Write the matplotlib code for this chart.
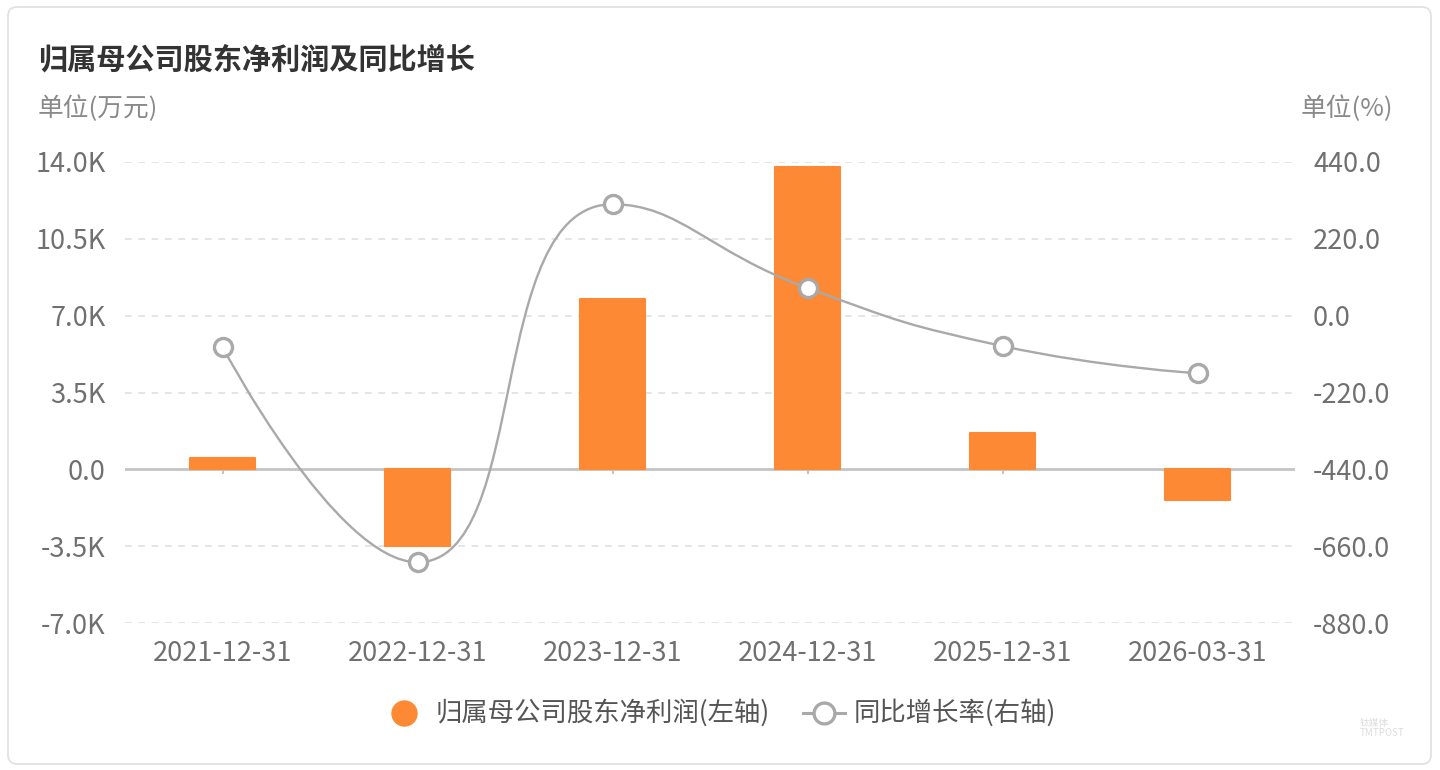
import numpy as np
import matplotlib
matplotlib.use('Agg')
import matplotlib.pyplot as plt
from matplotlib.path import Path
from matplotlib.patches import PathPatch, FancyBboxPatch
from matplotlib.lines import Line2D
from matplotlib.transforms import IdentityTransform

plt.rcParams['font.family'] = ['Noto Sans CJK SC', 'DejaVu Sans']

categories = ['2021-12-31', '2022-12-31', '2023-12-31', '2024-12-31', '2025-12-31', '2026-03-31']
net_profit = [500, -3510, 7750, 13770, 1640, -1410]      # 万元
yoy_growth = [-90, -706, 319, 79, -87, -165]             # %
left_ticks = [-7000, -3500, 0, 3500, 7000, 10500, 14000]
left_labels = ['-7.0K', '-3.5K', '0.0', '3.5K', '7.0K', '10.5K', '14.0K']
right_ticks = [-880, -660, -440, -220, 0, 220, 440]
right_labels = ['-880.0', '-660.0', '-440.0', '-220.0', '0.0', '220.0', '440.0']

W, H = 1440, 770
BAR_C = '#fd8935'
LINE_C = '#a9a9a9'
TICK_C = '#707070'
TICK_FS = 19.5

fig = plt.figure(figsize=(W / 100, H / 100), dpi=100)
fig.patch.set_facecolor('white')
card = FancyBboxPatch((8, 6), 1423, 757, boxstyle='round,pad=0,rounding_size=9',
                      transform=IdentityTransform(), fc='white', ec='#e2e2e2', lw=1.3, zorder=-10)
fig.add_artist(card)

ax = fig.add_axes([125 / W, 1 - 623 / H, 1170 / W, 461 / H])
ax2 = ax.twinx()
x = np.arange(len(categories))

ax.set_xlim(-0.5, len(categories) - 0.5)
ax.set_ylim(left_ticks[0], left_ticks[-1])
ax2.set_ylim(right_ticks[0], right_ticks[-1])
ax.set_facecolor('none')
ax2.set_facecolor('none')
for a in (ax, ax2):
    for s in a.spines.values():
        s.set_visible(False)

ax.set_yticks(left_ticks)
ax.set_yticklabels(left_labels)
ax2.set_yticks(right_ticks)
ax2.set_yticklabels(right_labels)
ax.tick_params(axis='y', length=0, pad=14, labelsize=TICK_FS, labelcolor=TICK_C)
ax2.tick_params(axis='y', length=0, pad=13, labelsize=TICK_FS, labelcolor=TICK_C)
ax.set_xticks(x)
ax.set_xticklabels(categories)
ax.tick_params(axis='x', length=0, pad=12, labelsize=TICK_FS, labelcolor=TICK_C)

for t in left_ticks:
    if t != 0:
        ax.axhline(t, color='#e0e0e0', lw=1.2, ls=(0, (4, 4)), zorder=0)
ax.axhline(0, color='#c4c4c4', lw=2, zorder=1)
ax.vlines(x, 0, -220, color='#c4c4c4', lw=1.5, zorder=1)

bars = ax.bar(x, net_profit, width=0.335, color=BAR_C, ec=BAR_C, lw=1.5, joinstyle='round', zorder=2)

# smooth line (ECharts-style bezier), control points computed in display space
fig.canvas.draw()
pts = ax2.transData.transform(np.column_stack([x, yoy_growth]))
smooth = 0.5
n = len(pts)
verts = [tuple(pts[0])]
codes = [Path.MOVETO]
cp0 = pts[0].copy()
for i in range(1, n):
    p = pts[i]
    prev = pts[i - 1]
    if i < n - 1:
        nxt = pts[i + 1]
        v = nxt - prev
        l_prev = np.hypot(*(p - prev))
        l_next = np.hypot(*(nxt - p))
        r = l_next / (l_next + l_prev)
        ncp = p + v * smooth * r
        ncp = np.minimum(ncp, np.maximum(nxt, p))
        ncp = np.maximum(ncp, np.minimum(nxt, p))
        v = ncp - p
        cp1 = p - v * l_prev / l_next
        cp1 = np.minimum(cp1, np.maximum(prev, p))
        cp1 = np.maximum(cp1, np.minimum(prev, p))
        v = p - cp1
        ncp = p + v * l_next / l_prev
    else:
        cp1 = p.copy()
        ncp = p.copy()
    verts += [tuple(cp0), tuple(cp1), tuple(p)]
    codes += [Path.CURVE4] * 3
    cp0 = ncp
inv = ax2.transData.inverted()
verts_data = inv.transform(np.array(verts))
ax2.add_patch(PathPatch(Path(verts_data, codes), fc='none', ec=LINE_C, lw=1.7, zorder=3))
ax2.plot(x, yoy_growth, ls='none', marker='o', ms=13, mfc='white', mec=LINE_C, mew=2.4, zorder=4)

# titles
fig.text(38 / W, 1 - 60 / H, '归属母公司股东净利润及同比增长', fontsize=21, fontweight='bold',
         color='#333333', va='center', ha='left')
fig.text(38 / W, 1 - 109 / H, '单位(万元)', fontsize=18.5, color='#8a8a8a', va='center', ha='left')
fig.text(1393 / W, 1 - 109 / H, '单位(%)', fontsize=18.5, color='#8a8a8a', va='center', ha='right')

# legend
ly = 1 - 713 / H
fig.add_artist(Line2D([404 / W], [ly], marker='o', ms=18, mfc=BAR_C, mec=BAR_C, ls='none',
                      transform=fig.transFigure))
fig.text(436 / W, ly, '归属母公司股东净利润(左轴)', fontsize=19, color='#555555', va='center', ha='left')
fig.add_artist(Line2D([803 / W, 845 / W], [ly, ly], color=LINE_C, lw=2.2, transform=fig.transFigure))
fig.add_artist(Line2D([824 / W], [ly], marker='o', ms=15, mfc='white', mec=LINE_C, mew=2.4,
                      ls='none', transform=fig.transFigure))
fig.text(854 / W, ly, '同比增长率(右轴)', fontsize=19, color='#555555', va='center', ha='left')

# watermark
fig.text(1360 / W, 1 - 728 / H, '钛媒体\nTMTPOST', fontsize=7, color='#dddddd', va='center',
         ha='left', linespacing=1.0)

fig.savefig('out.png', dpi=100, facecolor='white')
